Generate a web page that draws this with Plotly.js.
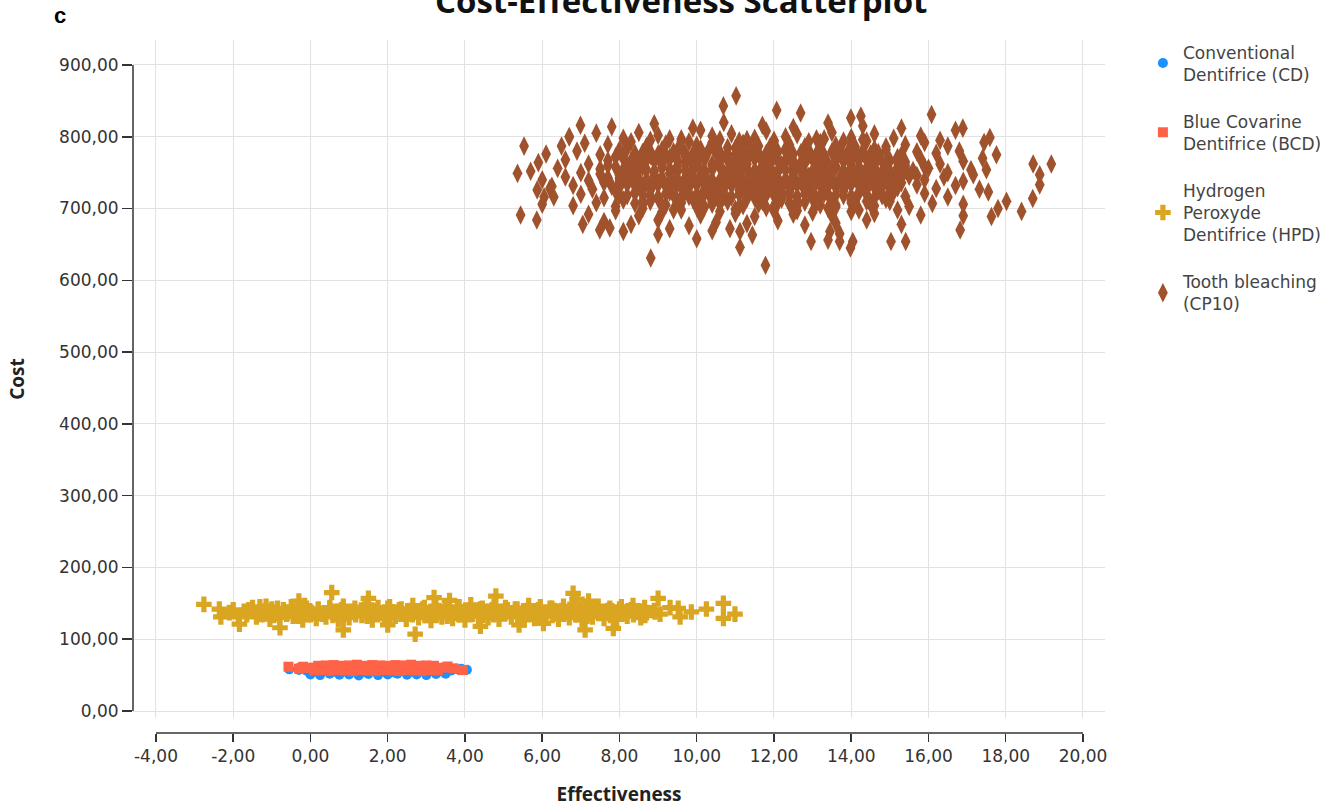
<!DOCTYPE html>
<html><head><meta charset="utf-8">
<script src="https://cdn.plot.ly/plotly-3.0.1.min.js"></script>
<style>html,body{margin:0;padding:0;background:#fff}</style>
</head><body><div id="chart" style="width:1339px;height:808px"></div>
<script>
// ---------- Data ----------
const seriesNames = ['Conventional<br>Dentifrice (CD)', 'Blue Covarine<br>Dentifrice (BCD)', 'Hydrogen<br>Peroxyde<br>Dentifrice (HPD)', 'Tooth bleaching<br>(CP10)'];

const xTickVals = [-4, -2, 0, 2, 4, 6, 8, 10, 12, 14, 16, 18, 20];
const xTickText = ['-4,00', '-2,00', '0,00', '2,00', '4,00', '6,00', '8,00', '10,00', '12,00', '14,00', '16,00', '18,00', '20,00'];
const yTickVals = [0, 100, 200, 300, 400, 500, 600, 700, 800, 900];
const yTickText = ['0,00', '100,00', '200,00', '300,00', '400,00', '500,00', '600,00', '700,00', '800,00', '900,00'];

// Conventional Dentifrice (CD)
const cdX = [0.0, 0.25, 0.5, 0.75, 1.0, 1.25, 1.5, 1.75, 2.0, 2.25, 2.5, 2.75, 3.0, 3.25, 3.5,
  -0.55, -0.3, -0.1, 0.15, 0.4, 0.65, 0.9, 1.15, 1.4, 1.65, 1.9, 2.15, 2.4, 2.65, 2.9, 3.15, 3.4, 3.65, 3.85, 4.05,
  -0.3, 0.2, 0.7, 1.2, 1.7, 2.2, 2.7, 3.2, 3.6, 3.9];
const cdY = [51, 50, 52, 50.5, 51, 49.5, 51.5, 50, 51, 52, 50.5, 51, 50, 51.5, 52,
  58, 57, 56, 55, 55.5, 54.5, 55, 56, 54.5, 55.5, 55, 54, 56, 55, 55.5, 56, 55, 56.5, 57, 57.5,
  60, 61, 59, 60, 62, 60, 59, 61, 60, 59];

// Blue Covarine Dentifrice (BCD)
const bcdX = [0.1, 0.3, 0.5, 0.7, 0.9, 1.1, 1.3, 1.5, 1.7, 1.9, 2.1, 2.3, 2.5, 2.7, 2.9, 3.1, 3.3,
  -0.1, 0.1, 0.3, 0.5, 0.7, 0.9, 1.1, 1.3, 1.5, 1.7, 1.9, 2.1, 2.3, 2.5, 2.7, 2.9, 3.1, 3.3, 3.5, 3.7,
  0.2, 0.4, 0.6, 0.8, 1.0, 1.2, 1.4, 1.6, 1.8, 2.0, 2.2, 2.4, 2.6, 2.8, 3.0, 3.2,
  -0.57, -0.19, 3.94, -0.3, 3.55];
const bcdY = [56.5, 57, 56, 57, 56.5, 56, 57, 56.5, 56, 57, 56.5, 56, 57, 56.5, 56, 57, 56.5,
  60, 60.5, 59.5, 60, 61, 59.5, 60.5, 60, 59.5, 61, 60, 60.5, 59.5, 60, 61, 60.5, 59.5, 60, 60.5, 59.5,
  63, 63.5, 64, 63, 63.5, 64.5, 63, 64, 63.5, 63, 64, 63.5, 64.5, 63, 63.5, 63,
  61.7, 61.7, 57, 59, 62];

// Hydrogen Peroxyde Dentifrice (HPD)
const hpdX = [-1.4, -1.05, -0.8, -0.45, -0.2, 0.15, 0.4, 0.72, 1.0, 1.33, 1.6, 1.92, 2.2, 2.48, 2.8, 3.12, 3.4, 3.68, 4.0, 4.35, 4.6, 4.88, 5.2, 5.53, 5.8, 6.1, 6.42, 6.7, 7.03, 7.3, 7.6, 7.92, 8.2, 8.55,
  -2.1, -1.72, -1.3, -0.93, -0.6, -0.28, 0.02, 0.3, 0.63, 0.9, 1.18, 1.52, 1.8, 2.12, 2.4, 2.68, 3.0, 3.32, 3.6, 3.88, 4.2, 4.52, 4.8, 5.1, 5.42, 5.7, 6.0, 6.32, 6.6, 6.88, 7.2, 7.52, 7.8, 8.1, 8.42, 8.7, 9.05,
  -1.5, -1.15, -0.85, -0.5, -0.15, 0.2, 0.5, 0.85, 1.15, 1.45, 1.75, 2.05, 2.35, 2.65, 2.95, 3.25, 3.55, 3.85, 4.15, 4.45, 4.75, 5.05, 5.35, 5.65, 5.95, 6.25, 6.55, 6.85, 7.15, 7.45, 7.75, 8.05, 8.35, 8.65,
  -1.25, -0.95, -0.62, -0.32, 0.0, 0.28, 0.58, 0.86, 1.17, 1.47, 1.76, 2.06, 2.34, 2.64, 2.96, 3.26, 3.54, 3.84, 4.18, 4.47, 4.74, 5.04, 5.36, 5.66, 5.94, 6.26, 6.56, 6.86, 7.16, 7.46, 7.76, 8.06, 8.36, 8.66,
  -1.6, -1.3, -1.0, -0.7, -0.4, -0.1, 0.2, 0.5, 0.8, 1.1, 1.4, 1.7, 2.0, 2.3, 2.6, 2.9, 3.2, 3.5, 3.8, 4.1, 4.4, 4.7, 5.0, 5.3, 5.6, 5.9, 6.2, 6.5, 6.8, 7.1, 7.4, 7.7, 8.0, 8.3, 8.6, 8.9,
  -2.76, -2.36, -2.32, -2.0, -1.87, -1.84, -1.65, -0.79, -1.31, 0.85, 0.55, 2.71, 10.99, 10.69, 10.69, 10.25, 9.86, 9.52, 9.57, 9.31, 9.0, 8.92, 7.84, 7.11, 6.80, 6.03, 1.5, 3.6, 4.4, 5.4, 6.9, 7.2, 3.2, 2.0, -0.3, 4.8];
const hpdY = [131, 128, 130, 132, 127, 129, 131, 128, 130, 133, 127, 129, 132, 128, 130, 126, 131, 129, 127, 132, 130, 128, 131, 127, 129, 132, 128, 130, 127, 131, 129, 128, 132, 130,
  137, 139, 135, 138, 136, 140, 137, 135, 139, 136, 138, 141, 136, 138, 135, 139, 137, 140, 136, 138, 135, 139, 137, 141, 136, 138, 135, 140, 137, 139, 136, 138, 140, 136, 139, 137, 135,
  144, 146, 143, 145, 147, 142, 144, 146, 143, 148, 144, 145, 142, 147, 144, 146, 143, 145, 148, 143, 146, 144, 142, 147, 145, 143, 146, 149, 144, 146, 143, 145, 147, 144,
  134, 133, 135, 132, 134, 136, 133, 135, 134, 132, 136, 133, 135, 134, 133, 136, 132, 134, 135, 133, 134, 136, 132, 135, 134, 133, 135, 134, 132, 136, 133, 135, 134, 133,
  141, 140, 142, 141, 139, 143, 140, 142, 141, 139, 142, 140, 143, 141, 140, 142, 139, 141, 143, 140, 142, 141, 139, 142, 140, 141, 143, 140, 142, 139, 141, 140, 142, 141, 139, 140,
  148.6, 142, 131, 141, 131, 121, 134, 116, 145, 113, 165, 107, 135, 150, 129, 142, 138, 143, 131, 144, 157, 138, 115, 113, 164, 122, 157, 154, 118, 120, 156, 153, 158, 120, 153, 160];

// Tooth bleaching (CP10)
const cp10X = [7.8, 8.9, 9.9, 10.7, 11.7, 12.5, 13.4, 14.3, 15.3,
  6.7, 7.4, 8.1, 8.5, 9.0, 9.6, 10.1, 10.4, 10.9, 11.3, 11.8, 12.3, 12.6, 13.1, 13.5, 14.0, 14.6, 15.1, 15.8, 16.3,
  6.5, 7.1, 7.7, 8.3, 8.7, 9.2, 9.6, 10.0, 10.4, 10.8, 11.2, 11.6, 12.0, 12.4, 12.8, 13.2, 13.6, 14.0, 14.4, 14.9, 15.4, 15.9, 16.5,
  6.1, 6.9, 7.5, 8.0, 8.4, 8.8, 9.2, 9.5, 9.9, 10.3, 10.6, 11.0, 11.4, 11.8, 12.1, 12.5, 12.9, 13.3, 13.7, 14.1, 14.5, 14.9, 15.3, 15.7, 16.2, 16.8,
  5.9, 6.6, 7.2, 7.7, 8.1, 8.5, 8.9, 9.3, 9.7, 10.0, 10.4, 10.8, 11.1, 11.5, 11.9, 12.3, 12.7, 13.0, 13.4, 13.8, 14.2, 14.6, 15.0, 15.4, 15.8, 16.3, 16.9, 17.4,
  5.7, 6.4, 7.0, 7.5, 7.9, 8.3, 8.7, 9.1, 9.5, 9.9, 10.2, 10.6, 11.0, 11.3, 11.7, 12.1, 12.5, 12.8, 13.2, 13.6, 14.0, 14.4, 14.8, 15.2, 15.6, 16.0, 16.5, 17.1,
  6.0, 6.6, 7.2, 7.7, 8.1, 8.5, 8.9, 9.3, 9.7, 10.1, 10.4, 10.8, 11.2, 11.6, 11.9, 12.3, 12.7, 13.1, 13.5, 13.9, 14.3, 14.7, 15.1, 15.5, 15.9, 16.4, 16.9,
  6.2, 6.8, 7.3, 7.8, 8.2, 8.6, 9.0, 9.4, 9.8, 10.2, 10.5, 10.9, 11.3, 11.7, 12.0, 12.4, 12.8, 13.2, 13.6, 14.0, 14.4, 14.8, 15.2, 15.7, 16.2, 16.7,
  6.3, 7.0, 7.6, 8.0, 8.4, 8.8, 9.2, 9.6, 10.0, 10.3, 10.7, 11.1, 11.5, 11.8, 12.2, 12.6, 13.0, 13.4, 13.8, 14.2, 14.6, 15.0, 15.4, 15.9, 16.5,
  6.8, 7.4, 7.9, 8.4, 8.8, 9.2, 9.6, 10.0, 10.4, 10.8, 11.2, 11.6, 12.0, 12.4, 12.8, 13.2, 13.6, 14.0, 14.5, 15.0, 15.5, 16.1,
  7.2, 7.9, 8.5, 9.1, 9.6, 10.1, 10.6, 11.0, 11.5, 12.0, 12.5, 13.0, 13.5, 14.0, 14.6, 15.2, 15.8,
  7.6, 8.3, 9.0, 9.8, 10.5, 11.3, 12.1, 12.8, 13.6, 14.4, 15.3,
  8.2, 8.7, 9.1, 9.6, 10.1, 10.5, 11.0, 11.4, 11.9, 12.3, 12.8, 13.2, 13.7, 14.1, 14.6,
  7.9, 8.4, 8.8, 9.3, 9.7, 10.2, 10.6, 11.1, 11.5, 12.0, 12.4, 12.9, 13.3, 13.8, 14.2, 14.7, 15.2,
  7.7, 8.2, 8.6, 9.1, 9.5, 10.0, 10.4, 10.9, 11.3, 11.8, 12.2, 12.7, 13.1, 13.6, 14.0, 14.5, 14.9, 15.4, 15.9,
  7.5, 8.0, 8.4, 8.9, 9.3, 9.8, 10.2, 10.7, 11.1, 11.6, 12.0, 12.5, 12.9, 13.4, 13.8, 14.3, 14.7, 15.2, 15.7,
  7.6, 8.0, 8.5, 8.9, 9.4, 9.8, 10.3, 10.7, 11.2, 11.6, 12.1, 12.5, 13.0, 13.4, 13.9, 14.3, 14.8, 15.3,
  7.9, 8.4, 8.8, 9.3, 9.7, 10.2, 10.6, 11.1, 11.5, 12.0, 12.4, 12.9, 13.3, 13.8, 14.2, 14.7, 15.1,
  8.1, 8.6, 9.0, 9.5, 9.9, 10.4, 10.8, 11.3, 11.7, 12.2, 12.6, 13.1, 13.5, 14.0, 14.4, 14.9,
  8.6, 9.4, 10.2, 11.0, 11.8, 12.6, 13.4, 14.2,
  8.8, 9.3, 9.8, 10.6, 11.1, 11.5, 12.0, 12.9, 13.3, 13.8, 14.3,
  8.6, 9.0, 9.4, 9.7, 10.1, 10.5, 10.8, 11.2, 11.6, 12.3, 12.7, 13.1, 13.5, 13.9, 14.3, 14.7,
  8.3, 8.7, 9.1, 9.5, 9.85, 10.2, 10.6, 10.95, 11.3, 11.7, 12.1, 12.5, 12.85, 13.2, 13.6, 14.0, 14.4, 14.8, 15.2,
  8.1, 8.5, 8.9, 9.3, 9.7, 10.05, 10.4, 10.8, 11.15, 11.5, 11.9, 12.3, 12.65, 13.0, 13.4, 13.8, 14.2, 14.6, 15.0, 15.4,
  8.0, 8.3, 8.7, 9.1, 9.5, 9.9, 10.25, 10.6, 11.0, 11.4, 11.75, 12.1, 12.5, 12.9, 13.3, 13.7, 14.1, 14.5, 14.9, 15.3,
  8.0, 8.4, 8.8, 9.2, 9.6, 10.0, 10.35, 10.7, 11.1, 11.5, 11.85, 12.2, 12.6, 13.0, 13.4, 13.8, 14.2, 14.6, 15.0,
  8.2, 8.6, 9.0, 9.4, 9.8, 10.15, 10.5, 10.9, 11.3, 11.65, 12.0, 12.4, 12.8, 13.2, 13.6, 14.0, 14.4, 14.8,
  8.6, 9.1, 9.6, 10.1, 10.6, 11.1, 11.6, 12.1, 12.6, 13.1, 13.6, 14.1, 14.6,
  5.53, 5.36, 5.44, 5.87, 5.86, 6.70, 6.99, 7.05, 6.05, 6.25, 6.0, 7.49, 7.75, 8.81, 10.69, 11.02, 11.12, 11.78, 12.07, 12.69, 13.99, 14.25, 16.08, 16.70, 16.89, 17.44, 17.59, 17.76, 18.71, 19.18, 18.88, 18.88, 18.70, 18.41, 18.02, 17.80, 17.63, 17.55, 17.50, 17.32, 16.82, 16.9, 16.9, 17.16, 15.03, 15.41, 13.98, 14.04, 12.96, 13.7, 13.7, 13.45, 13.40, 8.1, 9.0, 9.3, 10.0, 10.4, 10.86, 11.12, 11.44];
const cp10Y = [814, 818, 812, 820, 816, 813, 819, 815, 812,
  800, 805, 798, 806, 802, 797, 809, 801, 804, 796, 808, 800, 803, 797, 806, 799, 804, 798, 801, 795,
  787, 791, 789, 793, 786, 790, 794, 788, 792, 785, 791, 787, 793, 789, 786, 792, 788, 790, 794, 786, 789, 792, 787,
  776, 780, 775, 782, 777, 779, 774, 781, 776, 780, 778, 775, 782, 777, 779, 776, 781, 774, 778, 780, 776, 782, 775, 779, 777, 780,
  764, 768, 762, 767, 770, 763, 766, 769, 764, 767, 762, 768, 765, 770, 763, 767, 764, 769, 762, 766, 768, 763, 767, 765, 769, 762, 766, 770,
  752, 756, 750, 755, 758, 751, 754, 757, 752, 756, 753, 758, 751, 755, 757, 752, 756, 750, 754, 758, 752, 755, 751, 757, 753, 756, 750, 754,
  740, 744, 739, 743, 746, 741, 745, 738, 742, 746, 740, 744, 739, 743, 745, 741, 738, 744, 742, 746, 739, 743, 741, 745, 740, 744, 738,
  728, 732, 727, 731, 734, 729, 733, 726, 730, 734, 728, 732, 727, 731, 733, 729, 726, 732, 730, 734, 727, 731, 729, 733, 728, 732,
  716, 720, 715, 719, 722, 717, 721, 714, 718, 722, 716, 720, 715, 719, 721, 717, 714, 720, 718, 722, 715, 719, 717, 721, 716,
  704, 708, 703, 707, 710, 705, 709, 702, 706, 710, 704, 708, 703, 707, 709, 705, 702, 708, 706, 710, 703, 707,
  692, 697, 690, 695, 698, 691, 696, 693, 689, 697, 692, 695, 690, 696, 693, 698, 691,
  682, 678, 684, 676, 681, 679, 683, 677, 680, 684, 678,
  784, 786, 782, 785, 783, 787, 784, 782, 786, 783, 785, 784, 782, 786, 783,
  772, 770, 774, 771, 773, 769, 772, 774, 770, 773, 771, 774, 769, 772, 770, 773, 771,
  760, 762, 758, 761, 759, 763, 760, 758, 762, 759, 761, 760, 763, 758, 761, 759, 762, 760, 758,
  748, 746, 750, 747, 749, 745, 748, 750, 746, 749, 747, 750, 745, 748, 746, 749, 747, 750, 746,
  736, 738, 734, 737, 735, 739, 736, 734, 738, 735, 737, 736, 739, 734, 737, 735, 738, 736,
  724, 722, 726, 723, 725, 721, 724, 726, 722, 725, 723, 726, 721, 724, 722, 725, 723,
  712, 710, 714, 711, 713, 709, 712, 714, 710, 713, 711, 714, 709, 712, 710, 713,
  700, 698, 702, 699, 701, 697, 700, 698,
  795, 797, 793, 796, 794, 798, 795, 793, 797, 794, 796,
  778, 776, 779, 777, 780, 778, 776, 779, 777, 780, 778, 776, 779, 777, 780, 778,
  766, 768, 764, 767, 765, 769, 766, 764, 768, 765, 767, 766, 769, 764, 767, 765, 768, 766, 764,
  754, 756, 752, 755, 753, 757, 754, 752, 756, 753, 755, 754, 757, 752, 755, 753, 756, 754, 752, 755,
  742, 744, 740, 743, 741, 745, 742, 740, 744, 741, 743, 742, 745, 740, 743, 741, 744, 742, 740, 743,
  730, 732, 728, 731, 729, 733, 730, 728, 732, 729, 731, 730, 733, 728, 731, 729, 732, 730, 728,
  718, 720, 716, 719, 717, 721, 718, 716, 720, 717, 719, 718, 721, 716, 719, 717, 720, 718,
  706, 704, 708, 705, 707, 703, 706, 708, 704, 707, 705, 708, 704,
  787, 749, 691, 726, 684, 800, 816, 678, 716, 731, 706, 670, 673, 631, 843, 857, 646, 621, 837, 833, 826, 829, 831, 809, 812, 792, 799, 775, 762, 762, 747, 733, 714, 696, 710, 700, 689, 723, 754, 727, 670, 706, 690, 747, 654, 654, 645, 654, 654, 665, 654, 668, 656, 668, 664, 672, 658, 669, 672, 668, 663];

// ---------- Chart ----------
const tickFont = {family: 'DejaVu Sans', size: 17, color: '#333'};
const titleFont = {family: 'Open Sans', size: 19, color: '#222', weight: 700};

const traces = [
  {type: 'scatter', mode: 'markers', name: seriesNames[0], x: cdX, y: cdY, legendgroup: 'g1',
   marker: {symbol: 'circle', size: 10, color: '#1E90FF'}},
  {type: 'scatter', mode: 'markers', name: seriesNames[1], x: bcdX, y: bcdY, legendgroup: 'g2',
   marker: {symbol: 'square', size: 10, color: '#FF6347'}},
  {type: 'scatter', mode: 'markers', name: seriesNames[2], x: hpdX, y: hpdY, legendgroup: 'g3',
   marker: {symbol: 'cross', size: 13, color: '#DAA520'}},
  {type: 'scatter', mode: 'markers', name: seriesNames[3], x: cp10X, y: cp10Y, legendgroup: 'g4',
   marker: {symbol: 'diamond-tall', size: 14, color: '#A0522D'}}
];

const layout = {
  width: 1339, height: 808,
  margin: {l: 133, r: 234, t: 40, b: 75, autoexpand: false},
  paper_bgcolor: '#fff', plot_bgcolor: '#fff',
  font: {family: 'DejaVu Sans', size: 17, color: '#333'},
  showlegend: true,
  hovermode: false,
  xaxis: {
    domain: [0, 1], anchor: 'free', position: 0,
    range: [-4.595, 20.57], tickvals: xTickVals, ticktext: xTickText,
    ticks: 'outside', ticklen: 8, tickwidth: 1.5, tickcolor: '#333',
    showline: false, zeroline: false, showgrid: true, gridcolor: '#e2e2e2', gridwidth: 1,
    tickfont: tickFont,
    title: {text: 'Effectiveness', font: titleFont, standoff: 22}
  },
  yaxis: {
    domain: [0.02165, 1], anchor: 'x',
    range: [-9.75, 934.8], tickvals: yTickVals, ticktext: yTickText,
    ticks: 'outside', ticklen: 10, tickwidth: 1.5, tickcolor: '#333',
    showline: false, zeroline: false, showgrid: true, gridcolor: '#e2e2e2', gridwidth: 1,
    tickfont: tickFont,
    title: {text: 'Cost', font: titleFont, standoff: 29}
  },
  shapes: [
    {type: 'line', xref: 'paper', yref: 'y', x0: 0, x1: 0, y0: 0, y1: 900, line: {color: '#333', width: 1.5}},
    {type: 'line', xref: 'x', yref: 'paper', x0: -4, x1: 20, y0: 0, y1: 0, line: {color: '#333', width: 1.5}}
  ],
  legend: {
    x: 1.039, xanchor: 'left', y: 1.008, yanchor: 'top',
    font: {family: 'DejaVu Sans', size: 17, color: '#444'},
    tracegroupgap: 22, itemwidth: 30, bgcolor: 'rgba(0,0,0,0)'
  },
  annotations: [
    {text: 'Cost-Effectiveness Scatterplot', xref: 'paper', yref: 'paper', x: 0.5638, y: 1.057,
     xanchor: 'center', yanchor: 'middle', showarrow: false,
     font: {family: 'Open Sans', size: 33, color: '#111', weight: 700}},
    {text: 'c', xref: 'paper', yref: 'paper', x: -0.0751, y: 1.036,
     xanchor: 'center', yanchor: 'middle', showarrow: false,
     font: {family: 'Liberation Sans', size: 22, color: '#000', weight: 700}}
  ]
};

Plotly.newPlot('chart', traces, layout, {staticPlot: true, displayModeBar: false});
</script></body></html>
